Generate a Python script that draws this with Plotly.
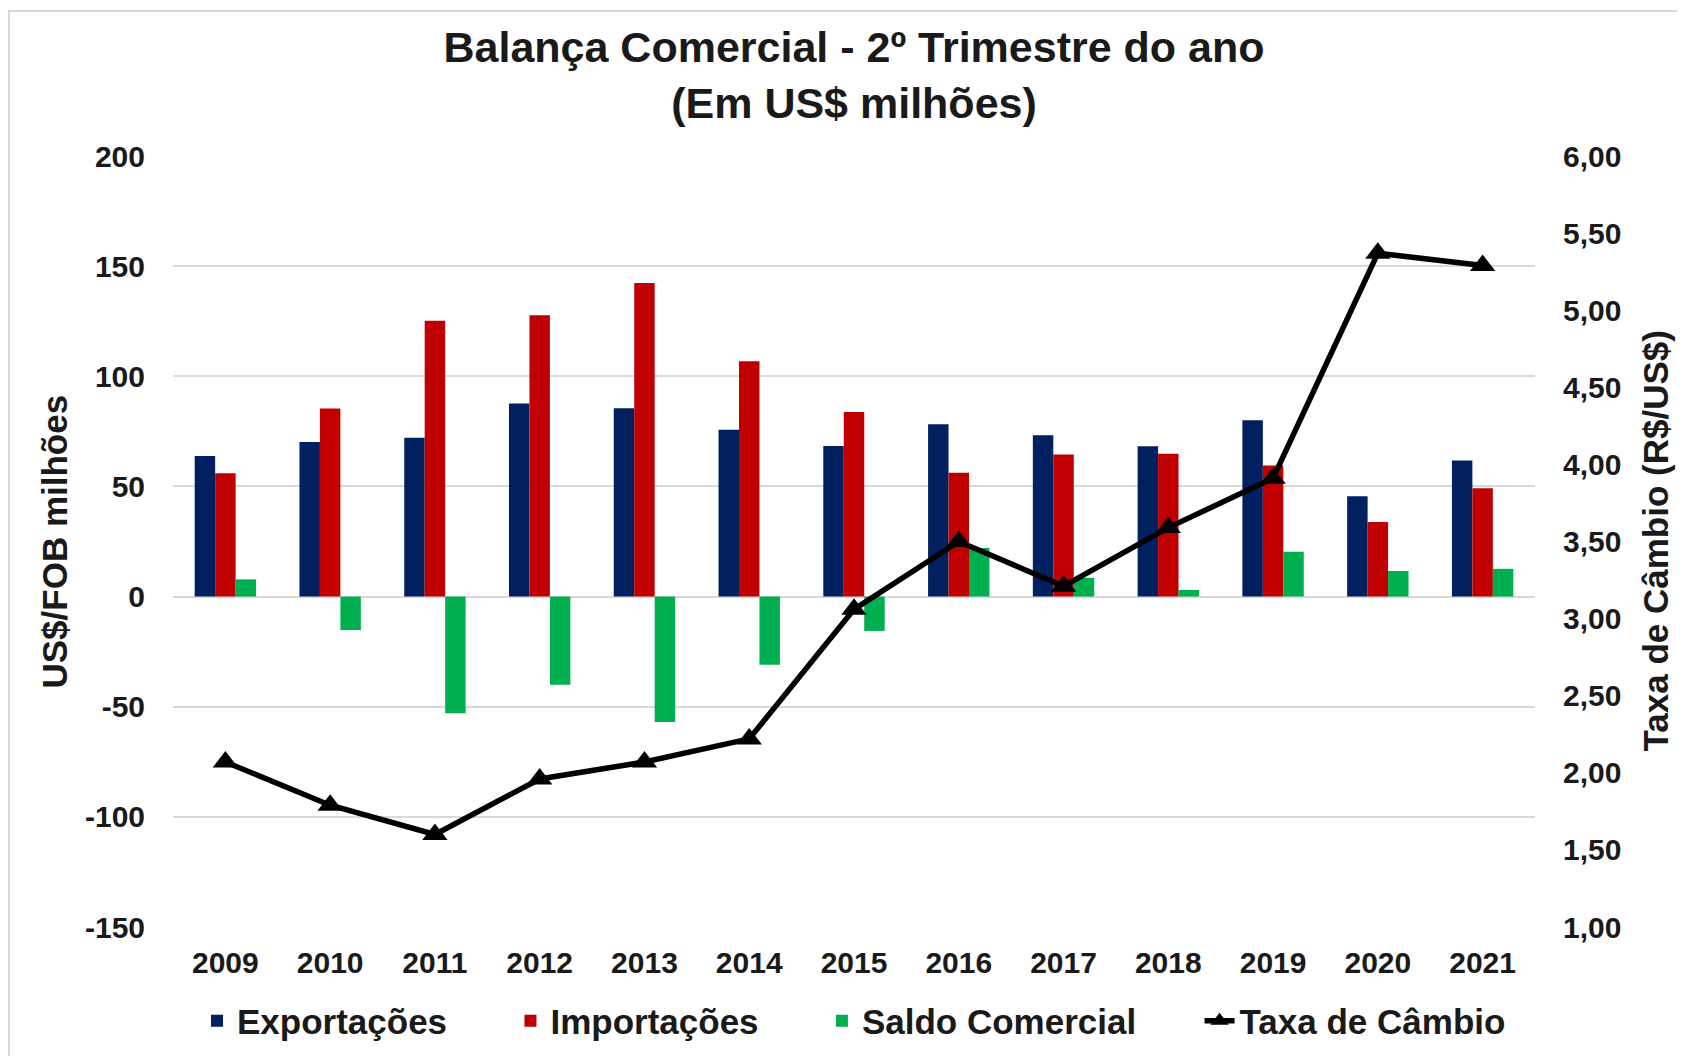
import plotly.graph_objects as go

anos = ["2009", "2010", "2011", "2012", "2013", "2014", "2015",
        "2016", "2017", "2018", "2019", "2020", "2021"]
exportacoes = [63.8, 70.2, 72.1, 87.7, 85.5, 75.7, 68.3, 78.2, 73.2, 68.2, 80.0, 45.5, 61.8]
importacoes = [56.0, 85.4, 125.2, 127.7, 142.4, 106.8, 83.8, 56.2, 64.5, 64.8, 59.5, 33.8, 49.2]
saldo = [7.8, -15.2, -53.0, -40.0, -56.9, -31.0, -15.6, 22.0, 8.5, 3.0, 20.3, 11.6, 12.6]
taxa_cambio = [2.07, 1.79, 1.60, 1.96, 2.07, 2.22, 3.06, 3.50, 3.21, 3.59, 3.91, 5.37, 5.29]

left_ticks = [-150, -100, -50, 0, 50, 100, 150, 200]
right_ticks = [1.0, 1.5, 2.0, 2.5, 3.0, 3.5, 4.0, 4.5, 5.0, 5.5, 6.0]
right_ticktext = ["1,00", "1,50", "2,00", "2,50", "3,00", "3,50", "4,00",
                  "4,50", "5,00", "5,50", "6,00"]

FONT = "Liberation Sans, Arial, sans-serif"
TXT = "#1a1a1a"
PAD = "\u00a0" * 6  # spacing between legend entries

fig = go.Figure()
fig.add_trace(go.Bar(x=anos, y=exportacoes, name="<b>Exportações</b>" + PAD,
                     marker=dict(color="#002060", line=dict(width=0))))
fig.add_trace(go.Bar(x=anos, y=importacoes, name="<b>Importações</b>" + PAD,
                     marker=dict(color="#C00000", line=dict(width=0))))
fig.add_trace(go.Bar(x=anos, y=saldo, name="<b>Saldo Comercial</b>" + PAD,
                     marker=dict(color="#00B050", line=dict(width=0))))
fig.add_trace(go.Scatter(x=anos, y=taxa_cambio, name="<b>Taxa de Câmbio</b>", yaxis="y2",
                         mode="lines+markers",
                         line=dict(color="black", width=5.5),
                         marker=dict(symbol="triangle-up", size=22, color="black")))

# page body has an 8px margin: figure is drawn from (8, 8) of the window
OFF = 8
W, H = 1685 - OFF, 1056 - OFF
ml, mt = 173 - OFF, 156 - OFF
mr = W - (1535 - OFF)
mb = H - (927 - OFF)
pw, ph = W - ml - mr, H - mt - mb

fig.update_layout(
    width=W, height=H,
    margin=dict(l=ml, r=mr, t=mt, b=mb, autoexpand=False),
    paper_bgcolor="white", plot_bgcolor="white",
    font=dict(family=FONT, color=TXT),
    title=dict(text="<b>Balança Comercial - 2º Trimestre do ano<br>(Em US$ milhões)</b>",
               x=(ml + pw / 2) / W, xanchor="center",
               y=1 - 54 / H, yanchor="middle",
               font=dict(size=43, family=FONT, color=TXT)),
    barmode="group", bargap=0.414, bargroupgap=0,
    showlegend=True,
    legend=dict(orientation="h", x=0.5, xanchor="center", y=-0.122, yanchor="middle",
                font=dict(size=35, family=FONT, color=TXT),
                traceorder="normal"),
    xaxis=dict(range=[-0.5, 12.5], showgrid=False, showline=False, zeroline=False,
               ticks="", automargin=False, ticklabelstandoff=15,
               tickfont=dict(size=30, family=FONT, color=TXT),
               tickprefix="<b>", ticksuffix="</b>"),
    yaxis=dict(range=[-150, 200], tickvals=left_ticks,
               ticktext=["<b>%d</b>" % v for v in left_ticks],
               showgrid=True, gridcolor="#D9D9D9", gridwidth=2,
               zeroline=False, showline=False, ticks="", automargin=False,
               ticklabelstandoff=27,
               tickfont=dict(size=30, family=FONT, color=TXT)),
    yaxis2=dict(range=[1, 6], overlaying="y", side="right",
                tickvals=right_ticks,
                ticktext=["<b>%s</b>" % t for t in right_ticktext],
                showgrid=False, zeroline=False, showline=False, ticks="",
                automargin=False, ticklabelstandoff=27,
                tickfont=dict(size=30, family=FONT, color=TXT)),
)

fig.add_annotation(text="<b>US$/FOB milhões</b>", xref="paper", yref="paper",
                   x=(54 - OFF - ml) / pw, y=0.5, xanchor="center", yanchor="middle",
                   textangle=-90, showarrow=False,
                   font=dict(size=35, family=FONT, color=TXT))
fig.add_annotation(text="<b>Taxa de Câmbio (R$/US$)</b>", xref="paper", yref="paper",
                   x=(1655 - OFF - ml) / pw, y=0.5, xanchor="center", yanchor="middle",
                   textangle=-90, showarrow=False,
                   font=dict(size=35, family=FONT, color=TXT))

# thin chart border
fig.add_shape(type="rect", xref="paper", yref="paper",
              x0=(9 - OFF - ml) / pw, x1=(W + 5 - ml) / pw,
              y0=-(H + 5 - mt - ph) / ph, y1=1 + (mt - (11 - OFF)) / ph,
              line=dict(color="#D9D9D9", width=2), layer="below")

fig.write_html("out.html")
